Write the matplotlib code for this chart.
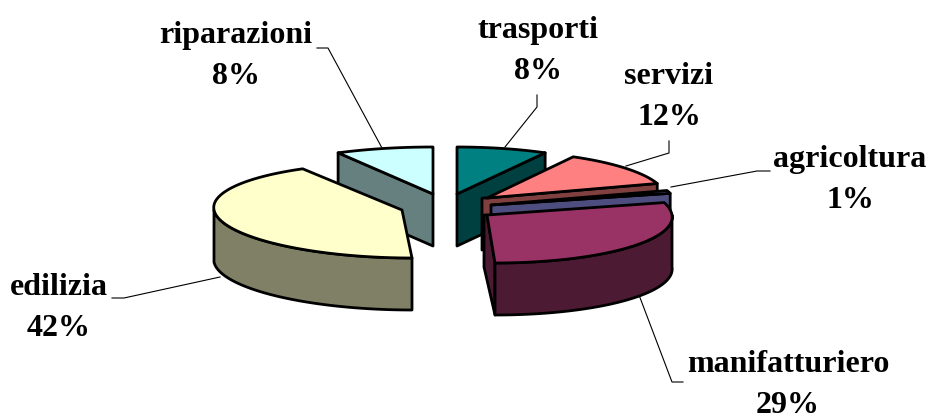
import numpy as np
import matplotlib
matplotlib.use("Agg")
import matplotlib.pyplot as plt
from matplotlib.patches import Polygon

plt.rcParams['font.family'] = ['Liberation Serif', 'DejaVu Serif']

# ===== DATA =====
categorie = ["trasporti", "servizi", "agricoltura", "manifatturiero", "edilizia", "riparazioni"]
valori = [8, 12, 1, 29, 42, 8]

# ===== STYLE =====
col_top = ["#008080", "#FF8080", "#9999FF", "#993366", "#FFFFCC", "#CCFFFF"]
col_side = ["#004040", "#804040", "#4D4D80", "#4D1A33", "#808066", "#668080"]
# exploded position of each slice tip on the picture
tip_x = [457, 487, 491, 487, 402, 433]
tip_y = [194, 198, 205, 215, 210, 194]
raggio_x = [183, 179, 185, 185, 188, 197]
raggio_yb = [47, 47, 47, 50, 47, 47]
raggio_yf = [48, 48, 48, 48, 48, 48]
shear = [0, 0, 0, 8, 10, 0]
cut_dx = [0, -5, 0, -3, 0, 0]
taglio = ["end", "end", "end", "end", None, "start"]
ordine = [5, 0, 4, 1, 2, 3]
prof = 52

lbl_x = [538, 669, 850, 788, 59, 236]
lbl_y = [51, 97, 180, 385, 308, 56]
lead = [
    [(505, 147), (537, 107), (537, 95)],
    [(626, 166), (669, 153), (669, 141)],
    [(671, 187), (757, 171), (770, 171)],
    [(639, 295), (672, 382), (683, 382)],
    [(220, 277), (124, 298), (112, 298)],
    [(382, 148), (328, 48), (317, 48)],
]


def rim(i, theta):
    # point on the slice rim, angle clockwise from 12 o'clock
    t = np.radians(theta)
    c = np.cos(t)
    x = tip_x[i] + raggio_x[i] * np.sin(t) - shear[i] * c
    y = tip_y[i] - np.where(c > 0, raggio_yb[i], raggio_yf[i]) * c
    return np.column_stack([x, y])


fig = plt.figure(figsize=(9.29, 4.2), dpi=100)
ax = fig.add_axes([0, 0, 1, 1])
ax.set_xlim(0, 929)
ax.set_ylim(420, 0)
ax.axis("off")

totale = sum(valori)
fine = np.cumsum(valori) / totale * 360
inizio = np.concatenate([[0], fine[:-1]])

# ===== LEADER LINES =====
for pts in lead:
    ax.plot([p[0] for p in pts], [p[1] for p in pts], color="black", lw=0.8, zorder=1)

# ===== SLICES =====
z = 2
for i in ordine:
    a0, a1 = inizio[i], fine[i]
    tip = np.array([tip_x[i], tip_y[i]], dtype=float)
    kw = dict(ec="black", lw=2.0, joinstyle="round")

    # flat cut face
    if taglio[i] is not None:
        a = a1 if taglio[i] == "end" else a0
        r = rim(i, a)[0]
        d = np.array([0, prof])
        e = np.array([cut_dx[i], 0])
        quad = [tip, r, r + d, tip + d + e, tip + e]
        ax.add_patch(Polygon(quad, closed=True, fc=col_side[i], zorder=z, **kw))
        z += 1

    # curved outer wall, front half only
    lo, hi = max(a0, 90), min(a1, 270)
    if lo < hi:
        arco = rim(i, np.linspace(lo, hi, 80))
        muro = np.vstack([arco, (arco + [0, prof])[::-1]])
        ax.add_patch(Polygon(muro, closed=True, fc=col_side[i], zorder=z, **kw))
        z += 1

    # top face
    arco = rim(i, np.linspace(a0, a1, 80))
    ax.add_patch(Polygon(np.vstack([tip, arco]), closed=True, fc=col_top[i], zorder=z, **kw))
    z += 1

# ===== LABELS =====
for i, nome in enumerate(categorie):
    ax.text(lbl_x[i], lbl_y[i], f"{nome}\n{valori[i]}%", ha="center", va="center",
            fontsize=23, fontweight="bold", linespacing=1.58, zorder=z)

fig.savefig("out.png", dpi=100)
